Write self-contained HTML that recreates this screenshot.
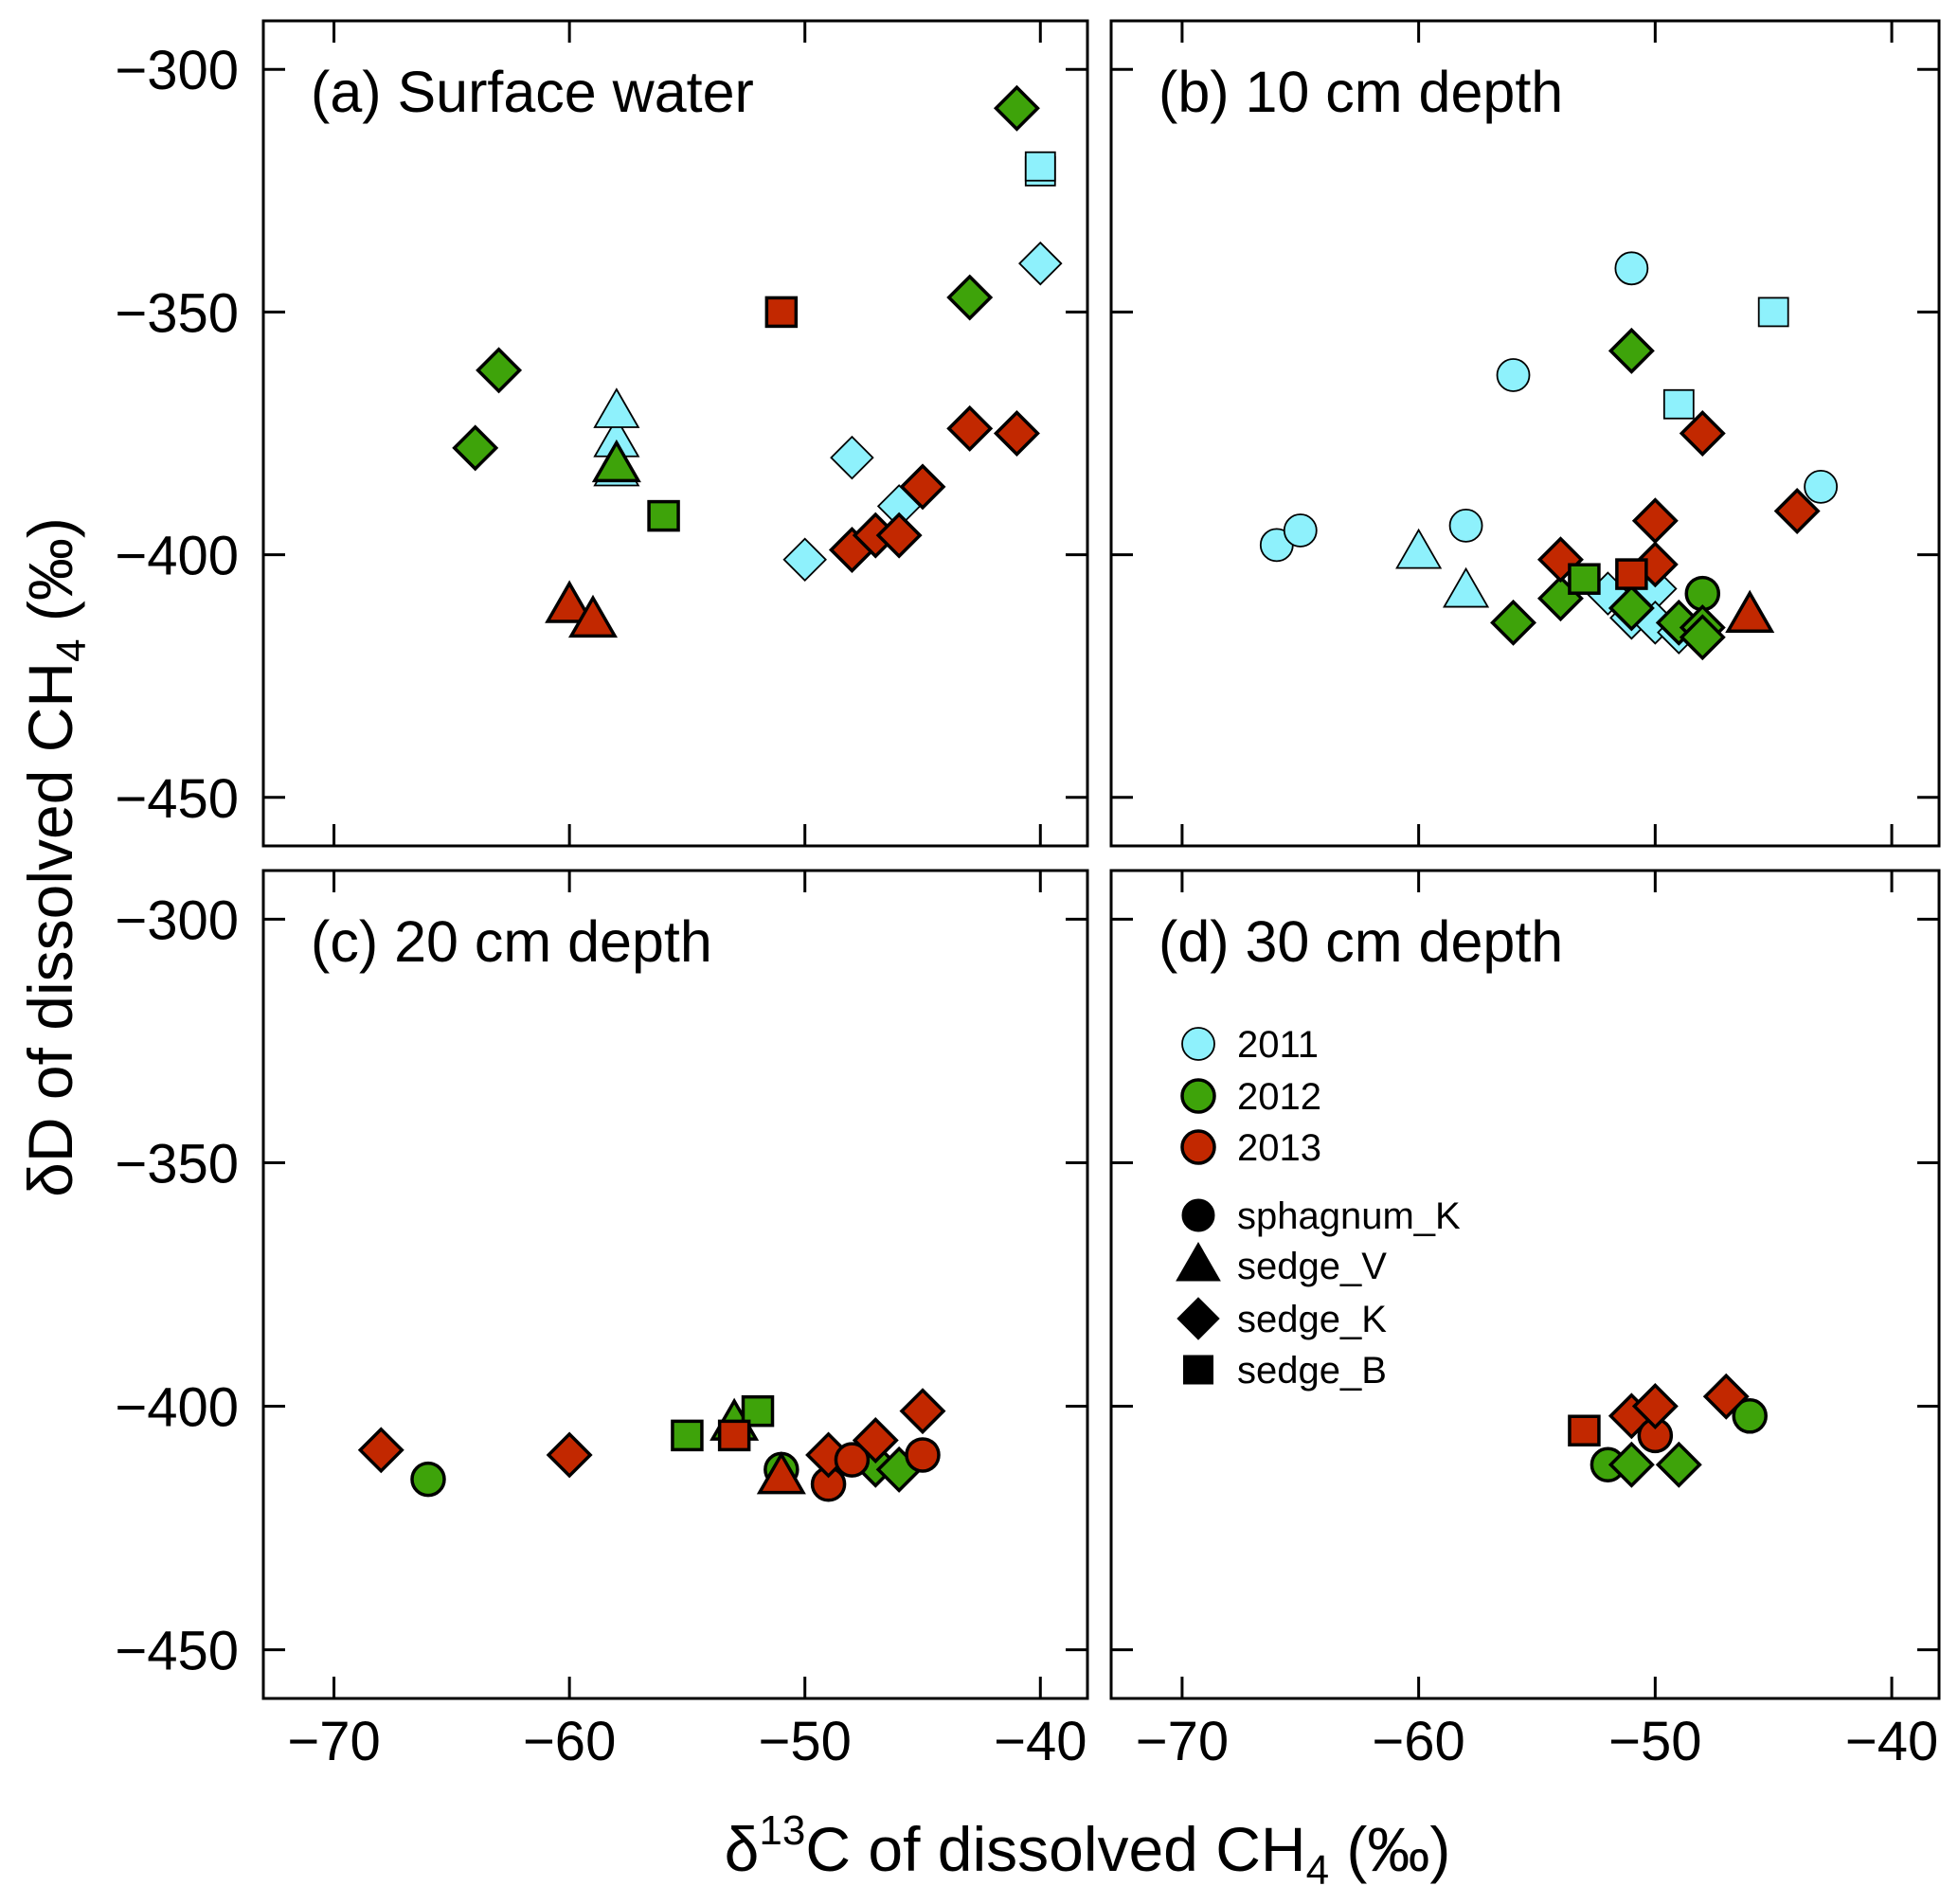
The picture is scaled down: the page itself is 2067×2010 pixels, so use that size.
<!DOCTYPE html>
<html><head><meta charset="utf-8">
<style>
html,body{margin:0;padding:0;background:#fff;}
svg{display:block;font-family:"Liberation Sans",Arial,sans-serif;}
</style></head>
<body>
<svg id="chart" width="2067" height="2010" viewBox="0 0 2067 2010" xmlns="http://www.w3.org/2000/svg">
<rect width="2067" height="2010" fill="#fff"/>
<text x="1148" y="1975" font-size="66" text-anchor="middle">δ<tspan dy="-28" font-size="44">13</tspan><tspan dy="28">C of dissolved CH</tspan><tspan dy="14" font-size="44">4</tspan><tspan dy="-14"> (‰)</tspan></text>
<text transform="translate(76,905) rotate(-90)" font-size="66" text-anchor="middle">δD of dissolved CH<tspan dy="14" font-size="44">4</tspan><tspan dy="-14"> (‰)</tspan></text>
</svg>
<script>
const xTicks = [-70, -60, -50, -40];
const yTicks = [-300, -350, -400, -450];
const panelTitles = ["(a) Surface water", "(b) 10 cm depth", "(c) 20 cm depth", "(d) 30 cm depth"];
const yearColors = {"2011": "#8ef1fc", "2012": "#3ea30a", "2013": "#c22800"};

// panel a
const aX = [-41, -40, -40, -40, -43, -51, -63, -64, -58, -58, -58, -58, -56, -43, -41, -48, -45, -46, -50, -48, -47, -46, -60, -59];
const aY = [-308, -321, -320, -340, -347, -350, -362, -378, -383, -377, -371, -382, -392, -374, -375, -380, -386, -390, -401, -399, -396, -396, -411, -414];
const aYear = ["2012","2011","2011","2011","2012","2013","2012","2012","2011","2011","2011","2012","2012","2013","2013","2011","2013","2011","2011","2013","2013","2013","2013","2013"];
const aType = ["D","S","S","D","D","S","D","D","T","T","T","T","S","D","D","D","D","D","D","D","D","D","T","T"];
// panel b
const bX = [-51, -45, -56, -43, -66, -65, -58, -49, -60, -58, -52, -51, -50, -50, -49, -51, -48, -56, -54, -51, -49, -48, -48, -48, -54, -44, -50, -50, -51, -53, -46];
const bY = [-341, -350, -363, -386, -398, -395, -394, -369, -400, -408, -408, -413, -407, -414, -416, -358, -408, -414, -409, -411, -414, -415, -417, -375, -401, -391, -393, -402, -404, -405, -413];
const bYear = ["2011","2011","2011","2011","2011","2011","2011","2011","2011","2011","2011","2011","2011","2011","2011","2012","2012","2012","2012","2012","2012","2012","2012","2013","2013","2013","2013","2013","2013","2012","2013"];
const bType = ["C","S","C","C","C","C","C","S","T","T","D","D","D","D","D","D","C","D","D","D","D","D","D","D","D","D","D","D","S","S","T"];
// panel c
const cX = [-66, -55, -53, -52, -51, -47, -46, -68, -60, -53, -51, -49, -49, -48, -47, -45, -45];
const cY = [-415, -406, -404, -401, -413, -412, -413, -409, -410, -406, -415, -416, -410, -411, -407, -410, -401];
const cYear = ["2012","2012","2012","2012","2012","2012","2012","2013","2013","2013","2013","2013","2013","2013","2013","2013","2013"];
const cType = ["C","S","T","S","C","D","D","D","D","S","T","C","D","C","D","C","D"];
// panel d
const dX = [-52, -51, -49, -46, -53, -51, -50, -50, -47];
const dY = [-412, -412, -412, -402, -405, -402, -406, -400, -398];
const dYear = ["2012","2012","2012","2012","2013","2013","2013","2013","2013"];
const dType = ["C","D","D","C","S","D","C","D","D"];

const legendYears = ["2011", "2012", "2013"];
const legendTypes = ["C", "T", "D", "S"];
const legendTypeLabels = ["sphagnum_K", "sedge_V", "sedge_K", "sedge_B"];

const NS = "http://www.w3.org/2000/svg";
const svg = document.getElementById("chart");
const panels = [
  {x0: 278, x1: 1148, y0: 22, y1: 893, xs: aX, ys: aY, yr: aYear, ty: aType, left: true, bottom: false},
  {x0: 1173, x1: 2047, y0: 22, y1: 893, xs: bX, ys: bY, yr: bYear, ty: bType, left: false, bottom: false},
  {x0: 278, x1: 1148, y0: 919, y1: 1793, xs: cX, ys: cY, yr: cYear, ty: cType, left: true, bottom: true},
  {x0: 1173, x1: 2047, y0: 919, y1: 1793, xs: dX, ys: dY, yr: dYear, ty: dType, left: false, bottom: true}
];
const XMIN = -73, XMAX = -38, YMIN = -460, YMAX = -290;
function mk(tag, attrs, parent) {
  const e = document.createElementNS(NS, tag);
  for (const k in attrs) e.setAttribute(k, attrs[k]);
  (parent || svg).appendChild(e);
  return e;
}
function marker(g, type, cx, cy, fill, sw) {
  let e;
  if (type === "C") e = mk("ellipse", {cx: cx, cy: cy, rx: 17, ry: 17}, g);
  else if (type === "S") e = mk("rect", {x: cx - 15.5, y: cy - 15, width: 31, height: 30}, g);
  else if (type === "D") e = mk("polygon", {points: `${cx},${cy-22} ${cx+22},${cy} ${cx},${cy+22} ${cx-22},${cy}`}, g);
  else e = mk("polygon", {points: `${cx},${cy-26} ${cx+23},${cy+14} ${cx-23},${cy+14}`}, g);
  e.setAttribute("fill", fill);
  e.setAttribute("stroke", "#000");
  e.setAttribute("stroke-width", sw);
  return e;
}
panels.forEach((p, i) => {
  const sx = v => p.x0 + (v - XMIN) / (XMAX - XMIN) * (p.x1 - p.x0);
  const sy = v => p.y1 - (v - YMIN) / (YMAX - YMIN) * (p.y1 - p.y0);
  const g = mk("g", {});
  
  
  const frame = mk("rect", {x: p.x0, y: p.y0, width: p.x1 - p.x0, height: p.y1 - p.y0, fill: "none", stroke: "#000", "stroke-width": 3}, g);
  
  
  xTicks.forEach(t => {
    const x = sx(t);
    mk("line", {x1: x, x2: x, y1: p.y0, y2: p.y0 + 23, stroke: "#000", "stroke-width": 3}, g);
    mk("line", {x1: x, x2: x, y1: p.y1, y2: p.y1 - 23, stroke: "#000", "stroke-width": 3}, g);
    if (p.bottom) {
      const tl = mk("text", {x: x, y: 1858, "font-size": 58, "text-anchor": "middle"}, g);
      tl.textContent = "\u2212" + Math.abs(t);
      
      
    }
  });
  yTicks.forEach(t => {
    const y = sy(t);
    mk("line", {x1: p.x0, x2: p.x0 + 23, y1: y, y2: y, stroke: "#000", "stroke-width": 3}, g);
    mk("line", {x1: p.x1, x2: p.x1 - 23, y1: y, y2: y, stroke: "#000", "stroke-width": 3}, g);
    if (p.left) {
      const tl = mk("text", {x: 252, y: y + 21, "font-size": 58, "text-anchor": "end"}, g);
      tl.textContent = "\u2212" + Math.abs(t);
      
      
    }
  });
  const title = mk("text", {x: p.x0 + 50, y: p.y0 + 96, "font-size": 61}, g);
  title.textContent = panelTitles[i];
  
  
  p.xs.forEach((v, j) => {
    const yr = p.yr[j];
    const m = marker(g, p.ty[j], sx(v), sy(p.ys[j]), yearColors[yr], yr === "2011" ? 1.8 : 3.5);
    
    
  });
});
// legend
const lg = mk("g", {});


const yearRowsY = [1102, 1157, 1211];
legendYears.forEach((y, i) => {
  const m = marker(lg, "C", 1265, yearRowsY[i], yearColors[y], y === "2011" ? 1.8 : 3.5);
  
  
  const t = mk("text", {x: 1306, y: yearRowsY[i] + 14, "font-size": 40}, lg);
  t.textContent = y;
  
  
});
const typeRowsY = [1283, 1336, 1392, 1446];
legendTypes.forEach((ty, i) => {
  const m = marker(lg, ty, 1265, typeRowsY[i] + (ty === "T" ? 2 : 0), "#000", 1);
  
  
  const t = mk("text", {x: 1306, y: typeRowsY[i] + 14, "font-size": 40}, lg);
  t.textContent = legendTypeLabels[i];
  
  
});
</script>
</body></html>
